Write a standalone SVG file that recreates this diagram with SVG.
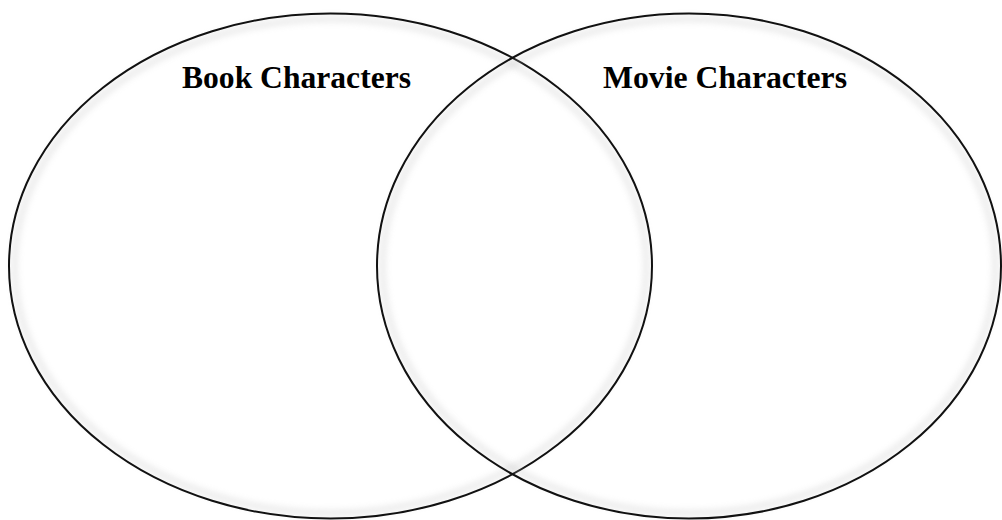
<svg xmlns="http://www.w3.org/2000/svg" width="1002" height="520" viewBox="0 0 1002 520">
  <defs>
    <style>
      .circle { fill: none; stroke: #111; stroke-width: 2; }
      .glow { fill: none; stroke: #bbb; stroke-width: 6; opacity: 0.3; filter: url(#blur); }
      .label { font-family: "Liberation Serif", "Times New Roman", serif; font-weight: bold; font-size: 31px; fill: #000; }
    </style>
    <filter id="blur" x="-10%" y="-10%" width="120%" height="120%">
      <feGaussianBlur stdDeviation="3"/>
    </filter>
  </defs>
  <rect width="1002" height="520" fill="#fff"/>
  <g id="book">
    <ellipse class="glow" cx="330.5" cy="266" rx="316" ry="247"/>
    <ellipse class="circle" cx="330.5" cy="266" rx="321.5" ry="252.5"/>
    <text class="label" x="182" y="88" textLength="229" lengthAdjust="spacingAndGlyphs">Book Characters</text>
  </g>
  <g id="movie">
    <ellipse class="glow" cx="689" cy="266" rx="306.5" ry="247"/>
    <ellipse class="circle" cx="689" cy="266" rx="312" ry="252.5"/>
    <text class="label" x="603" y="88" textLength="244" lengthAdjust="spacingAndGlyphs">Movie Characters</text>
  </g>
  <g id="connectors"/>
</svg>
